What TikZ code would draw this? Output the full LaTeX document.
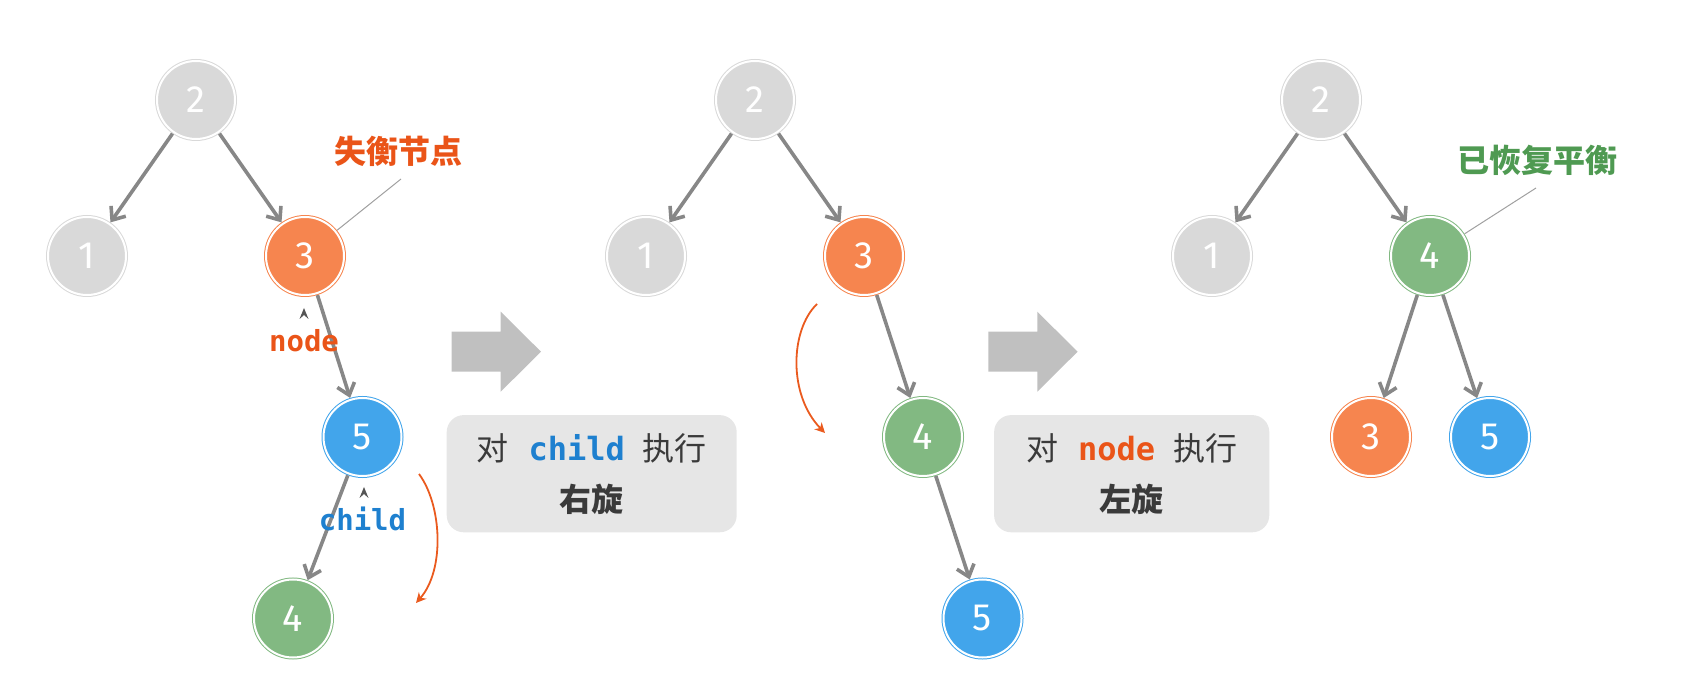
\documentclass[tikz,border=0pt]{standalone}
\usepackage{fontspec}
\setmainfont{Fira Sans}
\newfontfamily\cjk{Noto Sans CJK SC}
\newfontfamily\mono{DejaVu Sans Mono}
\usetikzlibrary{arrows.meta}
\definecolor{ngrey}{HTML}{D9D9D9}
\definecolor{norange}{HTML}{F6854F}
\definecolor{nblue}{HTML}{42A5EB}
\definecolor{ngreen}{HTML}{82B982}
\definecolor{edgec}{HTML}{878787}
\definecolor{bigarrow}{HTML}{C0C0C0}
\definecolor{boxc}{HTML}{E6E6E6}
\definecolor{redc}{HTML}{EA5A1E}
\definecolor{labelorange}{HTML}{EA5418}
\definecolor{labelblue}{HTML}{1E80CF}
\definecolor{labelgreen}{HTML}{4F9A52}
\definecolor{txt}{HTML}{3A3A3A}
\definecolor{leaderc}{HTML}{A0A0A0}
\definecolor{caretc}{HTML}{555555}
\tikzset{
  tnode/.style={circle, minimum size=39pt, inner sep=0pt, outer sep=1pt,
    line width=0.5pt, double=white, double distance=1pt, text=white,
    font=\fontsize{19}{19}\selectfont},
  gnode/.style={tnode, fill=ngrey, draw=ngrey},
  onode/.style={tnode, fill=norange, draw=norange},
  bnode/.style={tnode, fill=nblue, draw=nblue},
  vnode/.style={tnode, fill=ngreen, draw=ngreen},
  edge/.style={draw=edgec, line width=1.8pt, -{Straight Barb[length=5.5pt, width=9pt]}},
  leader/.style={draw=leaderc, line width=0.5pt},
  rot/.style={draw=redc, line width=0.9pt, -{Stealth[length=5pt, width=5pt, inset=1.5pt]}},
  bigarr/.style={fill=bigarrow, draw=none},
  caret/.style={fill=caretc, draw=none},
  lbox/.style={fill=boxc, draw=none, rounded corners=8.5pt, inner sep=0pt, align=center,
    text=txt, font=\cjk\fontsize{16}{25.5}\selectfont},
  cjklab/.style={font=\cjk\bfseries\fontsize{16}{16}\selectfont, inner sep=0pt},
  monolab/.style={font=\mono\bfseries\fontsize{14.5}{14.5}\selectfont, inner sep=0pt}
}
\begin{document}
\begin{tikzpicture}[x=0.5pt, y=-0.5pt]
\path[use as bounding box] (0,0) rectangle (1696,694);

% ---------- tree 1 ----------
\node[gnode] (a2) at (196,100) {2};
\node[gnode] (a1) at (87,256) {1};
\node[onode] (a3) at (305,256) {3};
\node[bnode] (a5) at (362.5,437) {5};
\node[vnode] (a4) at (293,618.5) {4};
\draw[edge] (a2) -- (a1);
\draw[edge] (a2) -- (a3);
\draw[edge] (a3) -- (a5);
\draw[edge] (a5) -- (a4);

\node[cjklab, text=labelorange] (lab1) at (398,151) {失衡节点};
\coordinate (lead1) at (401,179);
\draw[leader] (lead1) -- (a3);

\path[caret] (299.5,319) -- (304,308) -- (308.5,319) -- (304,315) -- cycle;
\node[monolab, text=labelorange] (nodelab) at (304,341) {node};
\path[caret] (359.5,498) -- (364,487) -- (368.5,498) -- (364,494) -- cycle;
\node[monolab, text=labelblue] (childlab) at (362.5,519) {child};

\coordinate (r1s) at (419,474);
\coordinate (r1e) at (416,603);
\draw[rot] (r1s) .. controls (442,505) and (445,570) .. (r1e);

% ---------- arrow 1 and box 1 ----------
\path[bigarr] (451.7,331.7) -- (500.7,331.7) -- (500.7,311.7) -- (541,351.7)
  -- (500.7,391.7) -- (500.7,371.7) -- (451.7,371.7) -- cycle;
\node[lbox, minimum width=145pt, minimum height=58.6pt] (box1) at (591.7,473.7)
  {对\hspace{10pt}{\mono\bfseries\color{labelblue}child}\hspace{9pt}执行\\ {\bfseries 右旋}};

% ---------- tree 2 ----------
\node[gnode] (b2) at (755,100) {2};
\node[gnode] (b1) at (646,256) {1};
\node[onode] (b3) at (864,256) {3};
\node[vnode] (b4) at (923,437) {4};
\node[bnode] (b5) at (982.5,618.5) {5};
\draw[edge] (b2) -- (b1);
\draw[edge] (b2) -- (b3);
\draw[edge] (b3) -- (b4);
\draw[edge] (b4) -- (b5);

\coordinate (r2s) at (817,304);
\coordinate (r2e) at (825,433);
\draw[rot] (r2s) .. controls (790,330) and (788,395) .. (r2e);

% ---------- arrow 2 and box 2 ----------
\path[bigarr] (988.3,331.7) -- (1037.3,331.7) -- (1037.3,311.7) -- (1077.6,351.7)
  -- (1037.3,391.7) -- (1037.3,371.7) -- (988.3,371.7) -- cycle;
\node[lbox, minimum width=137.6pt, minimum height=58.6pt] (box2) at (1131.7,473.7)
  {对\hspace{10pt}{\mono\bfseries\color{labelorange}node}\hspace{9pt}执行\\ {\bfseries 左旋}};

% ---------- tree 3 ----------
\node[gnode] (c2) at (1321,100) {2};
\node[gnode] (c1) at (1212,256) {1};
\node[vnode] (c4) at (1430,256) {4};
\node[onode] (c3) at (1371,437) {3};
\node[bnode] (c5) at (1490,437) {5};
\draw[edge] (c2) -- (c1);
\draw[edge] (c2) -- (c4);
\draw[edge] (c4) -- (c3);
\draw[edge] (c4) -- (c5);

\node[cjklab, text=labelgreen] (lab3) at (1537,160) {已恢复平衡};
\coordinate (lead3) at (1536,188);
\draw[leader] (lead3) -- (c4);
\end{tikzpicture}
\end{document}
